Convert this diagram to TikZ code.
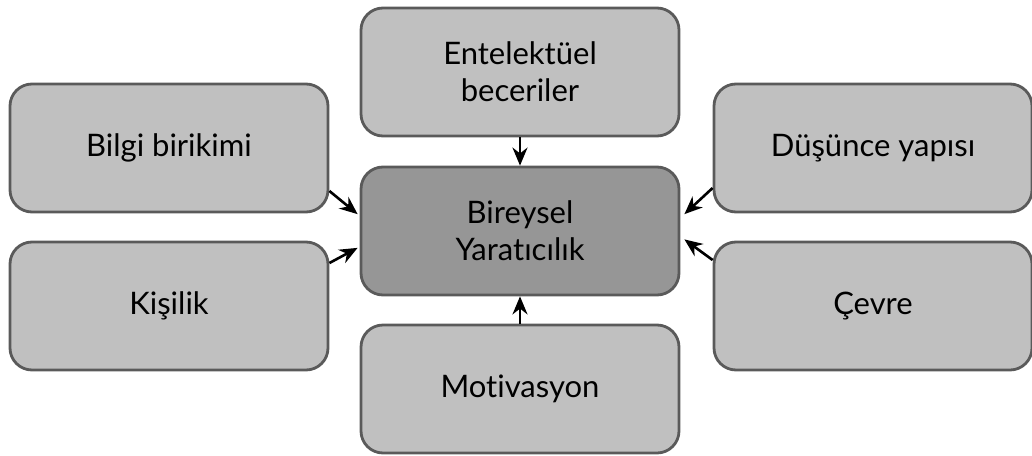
\documentclass[tikz,border=0pt]{standalone}
\usepackage{fontspec}
\setmainfont{Lato}[Ligatures={NoCommon,NoDiscretionary,NoRare}]
\usetikzlibrary{arrows.meta}
\definecolor{boxfill}{RGB}{192,192,192}
\definecolor{corefill}{RGB}{150,150,150}
\definecolor{boxline}{RGB}{90,90,90}
\begin{document}
\begin{tikzpicture}[x=0.5pt,y=-0.5pt,font=\fontsize{15.5}{18.5}\selectfont,>={Stealth[length=9pt,width=7.5pt]},
  factor/.style={draw=boxline,line width=1.4pt,fill=boxfill,rounded corners=11pt,minimum width=159pt,minimum height=64pt,align=center,text=black},
  core/.style={factor,fill=corefill},
  link/.style={->,line width=1.3pt}]
\useasboundingbox (0,0) rectangle (1032,455);
\node[factor] (ent) at (520,72) {Entelektüel\\beceriler};
\node[core] (core) at (520,231) {Bireysel\\Yaratıcılık};
\node[factor] (mot) at (520,389) {Motivasyon};
\node[factor] (bilgi) at (169,148) {Bilgi birikimi};
\node[factor] (kisi) at (169,306) {Kişilik};
\node[factor] (dusun) at (873,148) {Düşünce yapısı};
\node[factor] (cevre) at (873,306) {Çevre};
\draw[link] (ent) -- (core);
\draw[link] (mot) -- (core);
\draw[link] (bilgi.-15.6) -- ([xshift=-1pt]core.174);
\draw[link] (kisi.15.9) -- ([xshift=-1pt]core.186);
\draw[link] (dusun.194.3) -- ([xshift=2pt]core.6);
\draw[link] (cevre.164.4) -- ([xshift=2pt]core.-3);
\end{tikzpicture}
\end{document}
